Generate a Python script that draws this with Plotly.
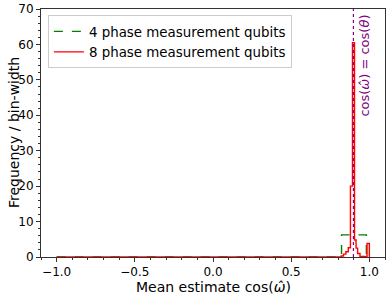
import plotly.graph_objects as go

# ---- data ----
green_edges = [-1.0, 0.822, 0.981, 1.0]
green_density = [0.0, 6.25, 0.0]

red_edges = [-1.0, 0.82, 0.835, 0.85, 0.865, 0.879, 0.892, 0.905, 0.915,
             0.925, 0.94, 0.955, 0.985, 1.0]
red_density = [0.0, 0.3, 0.8, 1.5, 2.6, 20.0, 60.5, 4.8, 2.5, 1.0, 0.2, 0.05, 3.8]

cos_theta = 0.898

x_ticks = [-1.0, -0.5, 0.0, 0.5, 1.0]
y_ticks = [0, 10, 20, 30, 40, 50, 60, 70]


def step_xy(edges, dens):
    xs, ys = [edges[0]], [0.0]
    for i, d in enumerate(dens):
        xs += [edges[i], edges[i + 1]]
        ys += [d, d]
    xs.append(edges[-1])
    ys.append(0.0)
    return xs, ys


gx, gy = step_xy(green_edges, green_density)
rx, ry = step_xy(red_edges, red_density)

FONT = "DejaVu Sans"
fig = go.Figure()
fig.add_trace(go.Scatter(x=gx, y=gy, mode="lines", name="4 phase measurement qubits",
                         line=dict(color="green", width=1.4, dash="dash")))
fig.add_trace(go.Scatter(x=rx, y=ry, mode="lines", name="8 phase measurement qubits",
                         line=dict(color="red", width=1.4)))
fig.add_trace(go.Scatter(x=[cos_theta, cos_theta], y=[0, 70], mode="lines", showlegend=False,
                         line=dict(color="purple", width=1.2, dash="dot")))

fig.add_annotation(x=cos_theta, y=54, xref="x", yref="y", text="cos(<i>ω̂</i>) = cos(<i>θ</i>)",
                   textangle=-90, showarrow=False, xanchor="left", yanchor="middle", xshift=2,
                   font=dict(family=FONT, size=13, color="purple"))

# axis titles as annotations for exact placement
fig.add_annotation(x=0.5, y=0, xref="paper", yref="paper", yshift=-30, showarrow=False,
                   text="Mean estimate cos(<i>ω̂</i>)", xanchor="center", yanchor="middle",
                   font=dict(family=FONT, size=14, color="black"))
fig.add_annotation(x=0, y=0.5, xref="paper", yref="paper", xshift=-27, showarrow=False,
                   text="Frequency / bin-width", textangle=-90, xanchor="center", yanchor="middle",
                   font=dict(family=FONT, size=14, color="black"))

axis_common = dict(showline=True, linecolor="#333", linewidth=1, mirror=True, ticks="outside",
                   ticklen=4, tickcolor="#333", showgrid=False, zeroline=False, automargin=False,
                   tickfont=dict(family=FONT, size=12, color="black"))

fig.update_xaxes(range=[-1.1, 1.1], tickvals=x_ticks, ticktext=["−1.0", "−0.5", "0.0", "0.5", "1.0"],
                 minor=dict(dtick=0.1, ticks="outside", ticklen=2, tickcolor="#333"),
                 **axis_common)
fig.update_yaxes(range=[0, 70], tickvals=y_ticks,
                 minor=dict(dtick=2, ticks="outside", ticklen=2, tickcolor="#333"),
                 **axis_common)

fig.update_layout(width=390, height=296, margin=dict(l=41, r=5, t=9, b=39),
                  plot_bgcolor="white", paper_bgcolor="white",
                  font=dict(family=FONT, size=12, color="black"),
                  legend=dict(x=0.02, y=0.975, xanchor="left", yanchor="top",
                              bgcolor="rgba(255,255,255,0.8)", bordercolor="#ccc", borderwidth=1,
                              font=dict(family=FONT, size=13.4), tracegroupgap=0, itemwidth=30))

fig.write_html("out.html", config={"displayModeBar": False},
               post_script="document.body.style.margin='0';")
